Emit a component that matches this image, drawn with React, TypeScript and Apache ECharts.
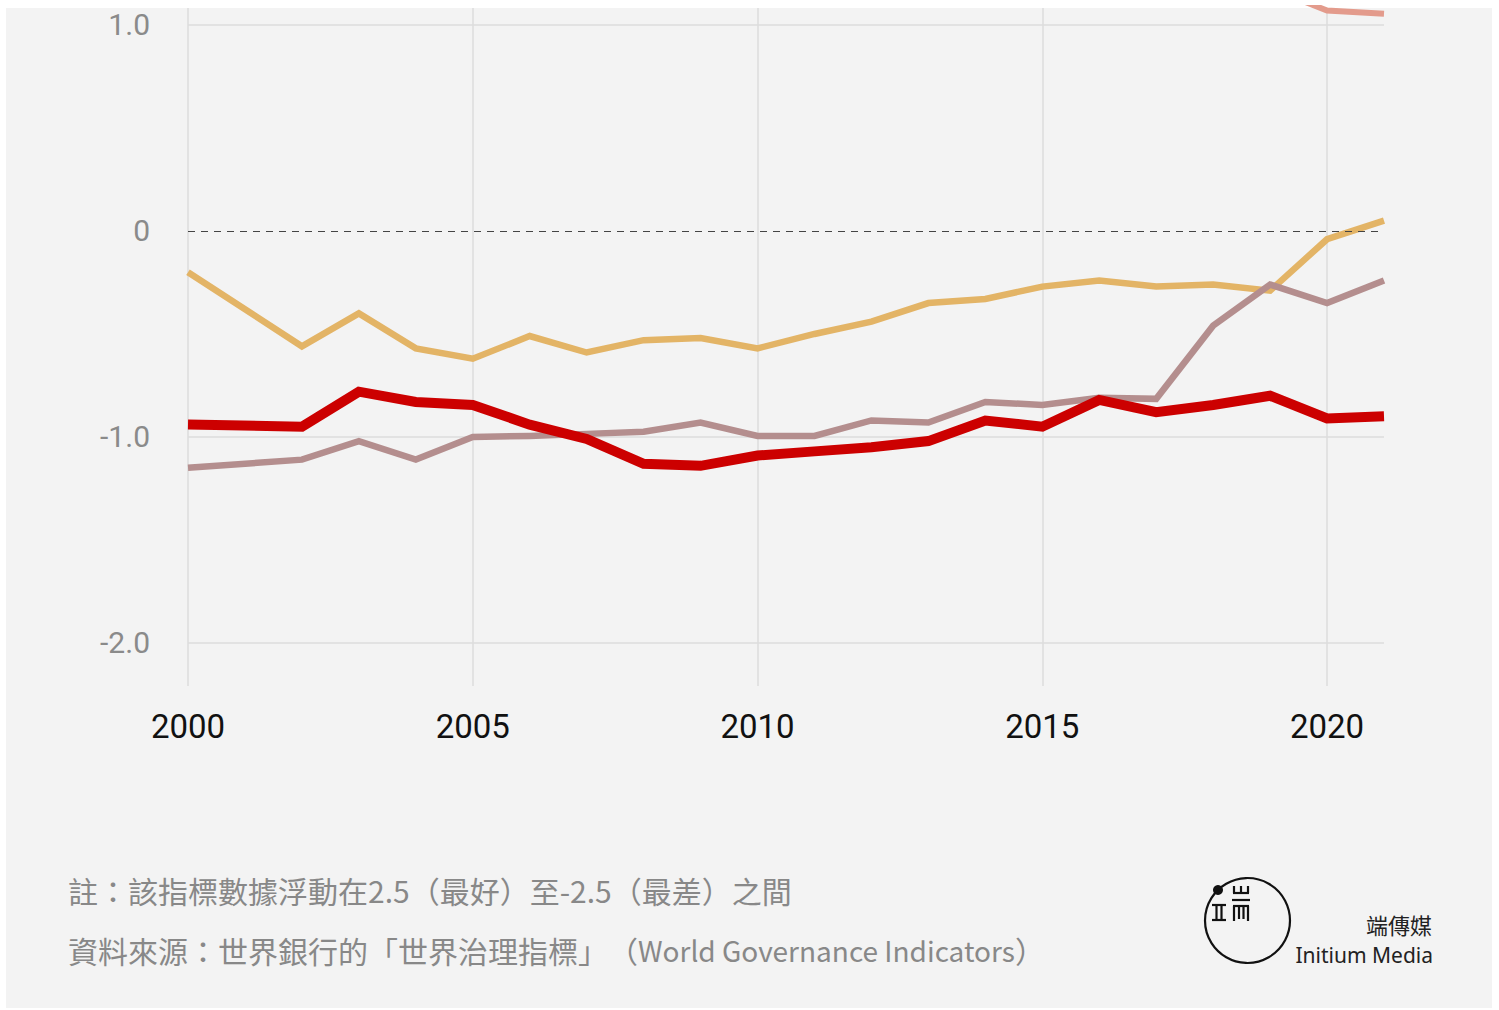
import React, { useEffect, useRef } from "react";
import * as echarts from "echarts";

const years = [2000, 2002, 2003, 2004, 2005, 2006, 2007, 2008, 2009, 2010, 2011, 2012, 2013, 2014, 2015, 2016, 2017, 2018, 2019, 2020, 2021];
const yellowValues = [-0.2, -0.56, -0.4, -0.57, -0.62, -0.51, -0.59, -0.53, -0.52, -0.57, -0.5, -0.44, -0.35, -0.33, -0.27, -0.24, -0.27, -0.26, -0.29, -0.04, 0.05];
const mauveValues = [-1.15, -1.11, -1.02, -1.11, -1.0, -0.995, -0.985, -0.975, -0.93, -0.995, -0.995, -0.92, -0.93, -0.83, -0.845, -0.81, -0.815, -0.46, -0.26, -0.35, -0.24];
const redValues = [-0.94, -0.95, -0.78, -0.83, -0.845, -0.94, -1.01, -1.13, -1.14, -1.09, -1.07, -1.05, -1.02, -0.92, -0.95, -0.82, -0.88, -0.845, -0.8, -0.91, -0.9];
const salmonValues = [null, null, null, null, null, null, null, null, null, null, null, null, null, null, null, null, null, null, 1.18, 1.07, 1.055];
const xTickLabels = [2000, 2005, 2010, 2015, 2020];
const yTickLabels = [-2, -1, 0, 1];
const yGridValues = [-2, -1, 1];
const noteText = "註：該指標數據浮動在2.5（最好）至-2.5（最差）之間";
const sourceTextCjk = "資料來源：世界銀行的「世界治理指標」";
const sourceTextOpen = "（";
const sourceTextLatin = "World Governance Indicators";
const sourceTextEnd = "）";

const pairs = (vals: (number | null)[]) => years.map((y, i) => [y, vals[i]]);

export default function App() {
  const ref = useRef<HTMLDivElement>(null);
  useEffect(() => {
    if (!ref.current) return;
    const chart = echarts.init(ref.current, null, { renderer: "svg" });
    const cjk = '"Noto Sans CJK TC", sans-serif';
    const logoStroke = { stroke: "#111", lineWidth: 2.2 };
    const ln = (x1: number, y1: number, x2: number, y2: number) => ({
      type: "line",
      shape: { x1, y1, x2, y2 },
      style: logoStroke,
      silent: true,
    });
    chart.setOption({
      animation: false,
      backgroundColor: "transparent",
      grid: { left: 188, right: 115, top: 8, bottom: 324, containLabel: false },
      xAxis: {
        type: "value",
        min: 2000,
        max: 2021,
        interval: 5,
        axisLine: { show: false },
        axisTick: { show: false, customValues: xTickLabels },
        axisLabel: {
          customValues: xTickLabels,
          color: "#111",
          fontSize: 33,
          fontFamily: "Roboto",
          margin: 24,
          formatter: (v: number) => String(v),
        },
        splitLine: { show: true, lineStyle: { color: "#dcdcdc", width: 1.5 } },
      },
      yAxis: {
        type: "value",
        min: -2.209,
        max: 1.0825,
        axisLine: { show: false },
        axisTick: { show: false, customValues: yGridValues },
        axisLabel: {
          customValues: yTickLabels,
          color: "#8a8a8a",
          fontSize: 30,
          fontFamily: "Roboto",
          margin: 38,
          formatter: (v: number) => (v === 0 ? "0" : v.toFixed(1)),
        },
        splitLine: { show: true, lineStyle: { color: "#dcdcdc", width: 1.5 } },
      },
      series: [
        {
          type: "line",
          data: pairs(salmonValues),
          symbol: "none",
          lineStyle: { color: "#e39b8c", width: 6, join: "miter" },
          z: 2,
        },
        {
          type: "line",
          data: pairs(yellowValues),
          symbol: "none",
          lineStyle: { color: "#e3b466", width: 6.5, join: "miter" },
          z: 3,
          markLine: {
            silent: true,
            symbol: "none",
            label: { show: false },
            lineStyle: { color: "#444", width: 1.2, type: [7, 6] },
            data: [{ yAxis: 0 }],
          },
        },
        {
          type: "line",
          data: pairs(mauveValues),
          symbol: "none",
          lineStyle: { color: "#b48e8e", width: 6.5, join: "miter" },
          z: 4,
        },
        {
          type: "line",
          data: pairs(redValues),
          symbol: "none",
          lineStyle: { color: "#cc0000", width: 10, join: "miter" },
          z: 5,
        },
      ],
      graphic: [
        {
          type: "text",
          left: 68,
          top: 875,
          style: { text: noteText, fill: "#888", font: `30px ${cjk}` },
        },
        {
          type: "text",
          left: 68,
          top: 935,
          style: {
            text: `{a|${sourceTextCjk}}{p|${sourceTextOpen}}{b|${sourceTextLatin}}{a|${sourceTextEnd}}`,
            fill: "#888",
            font: `30px ${cjk}`,
            rich: {
              a: { fill: "#888", fontSize: 30, fontFamily: cjk, height: 34 },
              p: { fill: "#888", fontSize: 30, fontFamily: cjk, height: 34, width: 30 },
              b: { fill: "#888", fontSize: 28, fontFamily: cjk, height: 34 },
            },
          },
        },
        {
          type: "circle",
          shape: { cx: 1247.5, cy: 920.5, r: 42.5 },
          style: { fill: "none", stroke: "#111", lineWidth: 2.2 },
          silent: true,
        },
        {
          type: "circle",
          shape: { cx: 1218, cy: 890, r: 5 },
          style: { fill: "#111" },
          silent: true,
        },
        ln(1212, 905, 1226, 905),
        ln(1212, 920, 1226, 920),
        ln(1216.5, 905, 1216.5, 920),
        ln(1221.5, 905, 1221.5, 920),
        ln(1233, 893, 1249, 893),
        ln(1234, 886, 1234, 893),
        ln(1241, 886, 1241, 893),
        ln(1248, 886, 1248, 893),
        ln(1232, 900, 1250, 900),
        ln(1233, 906, 1249, 906),
        ln(1234, 906, 1234, 921),
        ln(1248, 906, 1248, 921),
        ln(1239, 906, 1239, 919),
        ln(1243.5, 906, 1243.5, 919),
        {
          type: "text",
          right: 1499 - 1432,
          top: 913,
          style: { text: "端傳媒", fill: "#222", font: `22px ${cjk}` },
        },
        {
          type: "text",
          right: 1499 - 1433,
          top: 944,
          style: { text: "Initium Media", fill: "#222", font: '21px "Noto Sans", sans-serif' },
        },
      ],
    });
    return () => chart.dispose();
  }, []);
  return (
    <div
      style={{
        position: "fixed",
        left: 0,
        top: 0,
        width: 1499,
        height: 1010,
        background: "#fff",
        textSpacingTrim: "space-all",
      } as any}
    >
      <div style={{ position: "absolute", left: 6, top: 8, width: 1486, height: 1000, background: "#f3f3f3" }} />
      <div ref={ref} style={{ position: "absolute", left: 0, top: 0, width: 1499, height: 1010 }} />
    </div>
  );
}
